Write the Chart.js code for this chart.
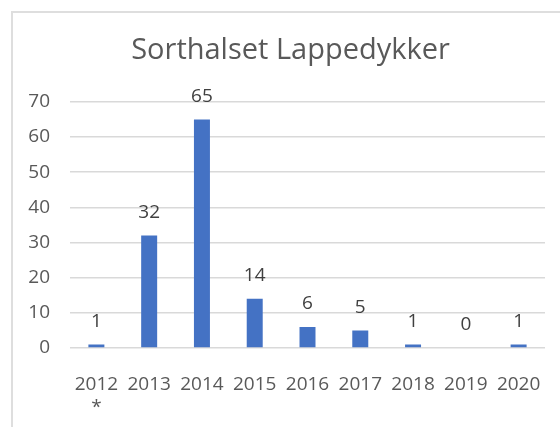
<!DOCTYPE html>
<html>
<head>
<meta charset="utf-8">
<script src="https://cdn.jsdelivr.net/npm/chart.js@4/dist/chart.umd.min.js"></script>
<style>
  html, body { margin: 0; padding: 0; background: #fff; overflow: hidden; }
  #wrap { position: relative; width: 560px; height: 427px; overflow: hidden; }
  canvas { position: absolute; left: 0; top: 0; }
</style>
</head>
<body>
<div id="wrap">
  <canvas id="chart" width="560" height="427"></canvas>
</div>
<script>
// years along the x axis ("2012 *" is a two-line label)
const years = [['2012', '*'], '2013', '2014', '2015', '2016', '2017', '2018', '2019', '2020'];
const counts = [1, 32, 65, 14, 6, 5, 1, 0, 1];
const yTicks = [0, 10, 20, 30, 40, 50, 60, 70];
const chartTitle = 'Sorthalset Lappedykker';

const FONT = "'Open Sans', sans-serif";

// value labels over each bar (no datalabels plugin available)
const valueLabels = {
  id: 'valueLabels',
  afterDatasetsDraw(chart) {
    const ctx = chart.ctx;
    const meta = chart.getDatasetMeta(0);
    ctx.save();
    ctx.font = "19px 'Open Sans', sans-serif";
    ctx.fillStyle = '#404040';
    ctx.textAlign = 'center';
    ctx.textBaseline = 'middle';
    meta.data.forEach((bar, i) => {
      ctx.fillText(String(counts[i]), bar.x, bar.y - 23);
    });
    ctx.restore();
  }
};

// excel centres the title a bit right of the canvas middle
const titleShift = {
  id: 'titleShift',
  afterLayout(chart) {
    if (chart.titleBlock) chart.titleBlock.left = 36;
  }
};

// the light frame of the chart object (only its left and top edges are in view)
const frame = {
  id: 'frame',
  beforeDraw(chart) {
    const ctx = chart.ctx;
    ctx.save();
    ctx.strokeStyle = '#dedede';
    ctx.lineWidth = 2;
    ctx.beginPath();
    ctx.moveTo(12, chart.height);
    ctx.lineTo(12, 12);
    ctx.lineTo(chart.width, 12);
    ctx.stroke();
    ctx.restore();
  }
};

function draw() {
  new Chart(document.getElementById('chart'), {
    type: 'bar',
    data: {
      labels: years,
      datasets: [{
        data: counts,
        backgroundColor: '#4472c4',
        borderWidth: 0,
        categoryPercentage: 1,
        barPercentage: 0.303
      }]
    },
    options: {
      responsive: false,
      animation: false,
      layout: { padding: { left: 0, right: 15, top: 0, bottom: 0 } },
      plugins: {
        legend: { display: false },
        tooltip: { enabled: false },
        title: {
          display: true,
          text: chartTitle,
          color: '#595959',
          font: { family: FONT, size: 29, weight: 'normal' },
          padding: { top: 33, bottom: 34 }
        }
      },
      scales: {
        x: {
          grid: { display: false },
          border: { display: false },
          ticks: {
            color: '#595959',
            font: { family: FONT, size: 19 },
            padding: 17,
            maxRotation: 0,
            autoSkip: false
          },
          afterFit(scale) { scale.height = 79; }
        },
        y: {
          min: 0,
          max: yTicks[yTicks.length - 1],
          grid: { color: '#d9d9d9', lineWidth: 1.5, drawTicks: false },
          border: { display: false },
          ticks: {
            stepSize: yTicks[1] - yTicks[0],
            color: '#595959',
            font: { family: FONT, size: 19 },
            padding: 20
          },
          afterFit(scale) { scale.width = 70; }
        }
      }
    },
    plugins: [valueLabels, titleShift, frame]
  });
}

if (document.fonts && document.fonts.load) {
  Promise.all([
    document.fonts.load("19px 'Open Sans'"),
    document.fonts.load("29px 'Open Sans'")
  ]).then(draw, draw);
} else {
  draw();
}
</script>
</body>
</html>
